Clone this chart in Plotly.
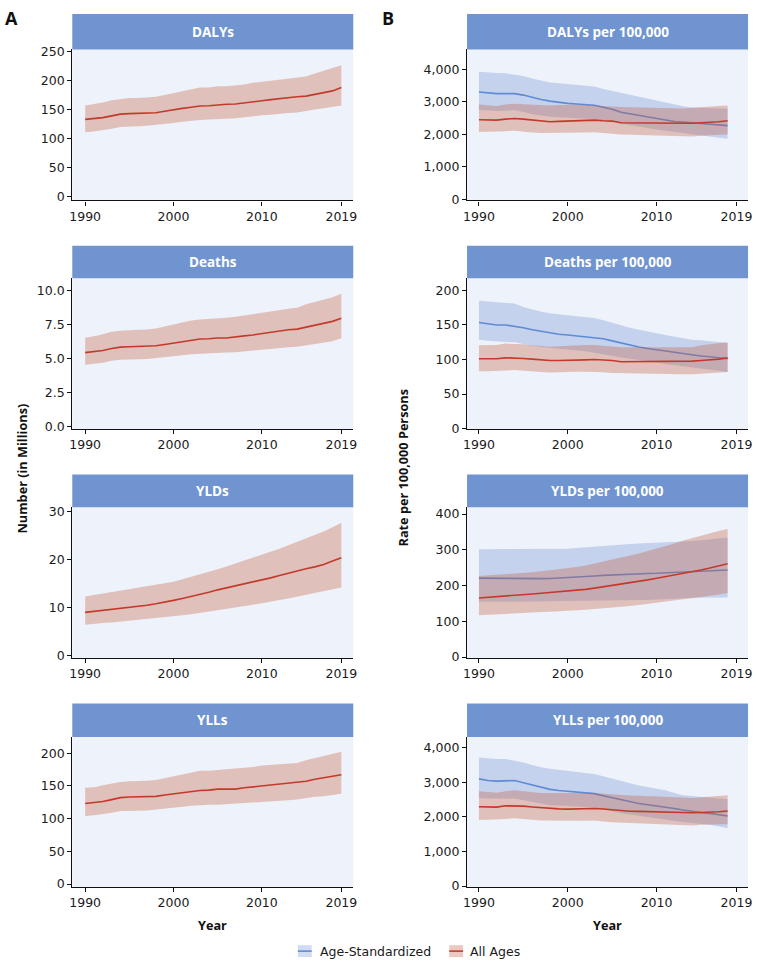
import plotly.graph_objects as go

# ---------------- DATA ----------------
years_a = list(range(1990, 2020))   # panel A (counts)
years_b = list(range(1990, 2019))   # panel B (rates)

# Panel A: All Ages counts (mid, upper, lower)
dalys_mid = [133,134,136,139,142,143,143.5,144,144.5,147,150,152,154,156,156.5,158,159,159.5,161,163,165,167,169,171,172,173,176,179,182,188]
dalys_up  = [157,159,162,166,168,170,170,171,172,175,178,181,184,188,188,190,190,191,193,196,198,200,202,204,206,207,212,217,221,226]
dalys_lo  = [111,112,114,117,120,121,121,122,123,125,127,129,131,132,133,134,134,135,137,138,140,141,142,144,145,147,150,152,154,157]

deaths_mid = [5.42,5.48,5.58,5.72,5.82,5.85,5.87,5.88,5.92,6.02,6.12,6.22,6.33,6.42,6.44,6.50,6.50,6.55,6.65,6.72,6.82,6.92,7.02,7.10,7.15,7.28,7.42,7.55,7.72,7.95]
deaths_up  = [6.52,6.62,6.78,6.95,7.02,7.08,7.10,7.12,7.20,7.35,7.48,7.62,7.78,7.85,7.88,7.92,7.98,8.05,8.15,8.25,8.38,8.48,8.58,8.65,8.72,8.98,9.15,9.32,9.50,9.76]
deaths_lo  = [4.52,4.60,4.68,4.82,4.90,4.92,4.93,4.95,4.98,5.08,5.15,5.22,5.30,5.36,5.38,5.40,5.42,5.45,5.52,5.58,5.64,5.70,5.75,5.82,5.86,5.98,6.08,6.15,6.25,6.48]

ylds_mid = [9.0,9.2,9.4,9.6,9.8,10.0,10.2,10.5,10.8,11.1,11.5,11.9,12.3,12.7,13.2,13.7,14.1,14.5,14.9,15.3,15.7,16.2,16.7,17.2,17.7,18.1,18.5,19.0,19.7,20.4]
ylds_up  = [12.3,12.6,12.9,13.2,13.5,13.8,14.1,14.4,14.7,15.0,15.4,15.9,16.4,16.9,17.4,18.0,18.6,19.2,19.8,20.4,21.0,21.6,22.3,23.0,23.7,24.4,25.1,25.9,26.8,27.7]
ylds_lo  = [6.4,6.6,6.8,6.9,7.1,7.2,7.4,7.6,7.8,8.0,8.2,8.4,8.6,8.9,9.1,9.4,9.7,10.0,10.3,10.6,10.9,11.2,11.6,11.9,12.3,12.6,13.0,13.4,13.8,14.2]

ylls_mid = [123,124,126,129,132,133,133,133.5,134,136,138,140,142,143,143.5,145,145,145,147,148.5,150,152,153,154.5,155.5,157,160,162,164,167]
ylls_up  = [147,148,151,154,156,157,157,158,159,162,165,168,170,173,173,174,175,176,178,179,181,182,183,184,185,189,192,195,198,202]
ylls_lo  = [104,105,106.5,109,111.5,112,112,112.5,113,115,116.5,118,119.5,120.5,121,121,121.5,122,123.5,124.5,125.5,126.5,127,128,129,131,133.5,134,136,138]

# Panel B: rates per 100,000 (Age-Standardized = as_, All Ages = aa_)
dalys_as_mid = [3305,3270,3255,3255,3255,3210,3140,3075,3025,2985,2955,2935,2920,2895,2835,2775,2680,2635,2590,2540,2490,2445,2395,2380,2360,2340,2315,2290,2270]
dalys_as_up  = [3930,3900,3890,3880,3850,3800,3720,3650,3600,3575,3550,3520,3500,3475,3400,3340,3275,3220,3175,3110,3045,2985,2925,2870,2825,2810,2800,2795,2790]
dalys_as_lo  = [2750,2735,2720,2730,2740,2690,2620,2580,2540,2525,2520,2500,2485,2470,2420,2370,2320,2280,2240,2195,2150,2110,2070,2025,1985,1960,1935,1900,1865]
dalys_aa_mid = [2450,2448,2440,2470,2490,2470,2440,2410,2390,2400,2415,2425,2435,2440,2420,2410,2360,2355,2350,2350,2350,2350,2348,2345,2345,2355,2365,2390,2420]
dalys_aa_up  = [2920,2900,2875,2920,2945,2930,2910,2895,2890,2905,2920,2915,2905,2895,2880,2860,2840,2835,2830,2825,2820,2815,2810,2800,2820,2845,2860,2875,2890]
dalys_aa_lo  = [2075,2080,2085,2100,2115,2090,2060,2045,2040,2045,2045,2055,2060,2065,2040,2020,1995,1985,1975,1970,1965,1955,1945,1940,1935,1960,1985,1990,1995]

deaths_as_mid = [153.5,151.5,150,150,148.5,146,143,140.5,138,136.5,135.5,134,133,132,130,127,124,120,118,116,114,112.5,111,109,106,105,104,102.5,101]
deaths_as_up  = [185,184,183,183,181,176,172,169,167,165,164,162.5,161,160,157,153,149,146,143,140,138,135.5,133,130.5,128.5,128,127,125.5,124]
deaths_as_lo  = [128.5,127,126,125.5,125,123,120,118,116.5,115,114,113,112,110.5,108,105.5,103,101,99,97,95.5,93.5,92,90,88,86.5,85,83.5,82]
deaths_aa_mid = [101,101,101,102.4,102.4,101.5,100.5,99.5,98.6,98.6,98.6,99,99.5,100,99.5,98.6,96.7,96.7,97,97,97,97.2,97.4,97.6,97.6,98.5,99,100.5,102.4]
deaths_aa_up  = [120.5,121,121,123,123,122,120.5,119,118.5,119,120,120.5,121,121,120,118.5,117.6,117.6,117.8,118,118,117.8,117.6,117.6,117.6,120.5,122,123.5,125]
deaths_aa_lo  = [83,83,83,84,84.8,84,83,82,81,81.5,82,82.2,82.4,82.4,81.5,80.5,79.5,79.3,79.2,79,79,78.8,78.7,78.6,78.6,79.5,80,81,82]

ylds_as_mid = [221,220.5,220,219.5,219,219,219,219.5,220,221,222.5,224,225.5,227,228.5,230,231,232,233,234,234.5,235.5,236.5,237.5,238.5,239.5,241,242.5,243.7]
ylds_as_up  = [301.5,301.5,301.5,301.5,301.5,301.5,302,302,302.5,302.5,303,305,307,309,312,314.5,315.5,316.5,317.5,318.5,319,320.5,322,323.5,325,326.5,329,332,334.5]
ylds_as_lo  = [154.5,154.5,154.5,154.5,154.5,154.5,154.5,155,155,155.5,156,156.5,157,157.5,158,158,158.5,159,159.5,160,161,162,163,164.5,166,167,167,167,167]
ylds_aa_mid = [165.5,167,169,171,173,174.7,176.5,178.5,180.5,182,184,186.5,189.5,193,196.5,200,204,208,212,216,220.7,225,229.5,234.5,239,243.7,249,255,261]
ylds_aa_up  = [227,228.5,230,231.5,233,234.5,237,240,243,245.5,248,252,256.5,262,266.5,271,277.5,284,290,296.5,303,310.5,318,326,333,340,346.5,352.5,358.5]
ylds_aa_lo  = [116.8,118.2,119.6,121,122.5,124,125,126,127,127.8,128.7,130.5,132.4,134.2,136,138,140.5,143.2,146,148.8,151.7,155,158.5,162,164.5,167,171,175,179]

ylls_as_mid = [3097,3050,3031,3040,3050,2983,2920,2860,2793,2760,2736,2715,2698,2670,2610,2556,2480,2430,2385,2350,2318,2280,2242,2195,2147,2120,2100,2060,2024]
ylls_as_up  = [3715,3690,3667,3667,3630,3572,3500,3430,3390,3354,3320,3287,3265,3240,3170,3097,3025,2955,2905,2860,2815,2765,2690,2622,2600,2575,2550,2530,2508]
ylls_as_lo  = [2546,2530,2518,2522,2527,2480,2432,2385,2337,2328,2318,2300,2280,2261,2210,2160,2100,2060,2024,1990,1957,1920,1881,1848,1815,1790,1767,1720,1672]
ylls_aa_mid = [2290,2285,2280,2318,2318,2309,2285,2261,2233,2228,2223,2230,2240,2242,2225,2204,2166,2162,2157,2148,2138,2132,2127,2122,2119,2124,2128,2145,2166]
ylls_aa_up  = [2736,2717,2698,2735,2765,2740,2715,2689,2690,2695,2698,2694,2690,2689,2665,2645,2622,2614,2606,2600,2594,2582,2570,2558,2546,2560,2575,2600,2622]
ylls_aa_lo  = [1910,1915,1919,1940,1957,1935,1912,1891,1886,1883,1881,1885,1888,1891,1865,1840,1815,1808,1800,1793,1786,1776,1767,1757,1748,1767,1786,1786,1786]

titles_a = ["DALYs", "Deaths", "YLDs", "YLLs"]
titles_b = ["DALYs per 100,000", "Deaths per 100,000", "YLDs per 100,000", "YLLs per 100,000"]
legend_names = ["Age-Standardized", "All Ages"]
x_tickvals = [1990, 2000, 2010, 2019]
ytick_a = [[0, 50, 100, 150, 200, 250], [0, 2.5, 5, 7.5, 10], [0, 10, 20, 30], [0, 50, 100, 150, 200]]
ytick_a_text = [["0", "50", "100", "150", "200", "250"], ["0.0", "2.5", "5.0", "7.5", "10.0"],
                ["0", "10", "20", "30"], ["0", "50", "100", "150", "200"]]
ytick_b = [[0, 1000, 2000, 3000, 4000], [0, 50, 100, 150, 200], [0, 100, 200, 300, 400], [0, 1000, 2000, 3000, 4000]]
ytick_b_text = [["0", "1,000", "2,000", "3,000", "4,000"], ["0", "50", "100", "150", "200"],
                ["0", "100", "200", "300", "400"], ["0", "1,000", "2,000", "3,000", "4,000"]]

series_a = [(dalys_mid, dalys_up, dalys_lo), (deaths_mid, deaths_up, deaths_lo),
            (ylds_mid, ylds_up, ylds_lo), (ylls_mid, ylls_up, ylls_lo)]
series_b = [
    ((dalys_as_mid, dalys_as_up, dalys_as_lo), (dalys_aa_mid, dalys_aa_up, dalys_aa_lo)),
    ((deaths_as_mid, deaths_as_up, deaths_as_lo), (deaths_aa_mid, deaths_aa_up, deaths_aa_lo)),
    ((ylds_as_mid, ylds_as_up, ylds_as_lo), (ylds_aa_mid, ylds_aa_up, ylds_aa_lo)),
    ((ylls_as_mid, ylls_as_up, ylls_as_lo), (ylls_aa_mid, ylls_aa_up, ylls_aa_lo)),
]

# ---------------- STYLE / LAYOUT ----------------
W, H = 757, 967
BLUE_LINE = "#5f8bd6"
BLUE_FILL = "rgba(90,130,210,0.28)"
RED_LINE = "#c43a2a"
RED_FILL = "rgba(196,92,60,0.33)"
HEADER = "#7094d0"
PLOT_BG = "#eef2fa"
TICK_FONT = dict(family="DejaVu Sans", size=12.5, color="#1a1a1a")

colA = (69, 353)
colB = (468, 752)
rows = [(44, 197), (276, 429), (508, 661), (741, 893)]
headers = [(8, 44), (243, 276), (475, 508), (707, 741)]
yrange_a = [[-6.3, 253.4], [-0.22, 10.89], [-0.56, 30.97], [-4.5, 224.6]]
yrange_b = [[-30, 4616], [-1, 217.6], [-2.8, 419.3], [-28.5, 4305]]
xrange_a = [1988.54, 2020.35]
xrange_b = [1988.66, 2020.3]


def px_x(p):
    return p / W


def px_y(p):
    return 1 - p / H


fig = go.Figure()
layout = dict()
shapes = []
annotations = []


def band(x, up, lo, color, xa, ya):
    return go.Scatter(x=list(x) + list(x)[::-1], y=list(up) + list(lo)[::-1],
                      fill="toself", fillcolor=color, line=dict(width=0),
                      mode="lines", hoverinfo="skip", showlegend=False, xaxis=xa, yaxis=ya)


def line(x, y, color, xa, ya):
    return go.Scatter(x=x, y=y, mode="lines", line=dict(color=color, width=1.6),
                      showlegend=False, xaxis=xa, yaxis=ya)


idx = 0
for r in range(4):
    for c in range(2):
        idx += 1
        xa = "x" if idx == 1 else f"x{idx}"
        ya = "y" if idx == 1 else f"y{idx}"
        xkey = "xaxis" if idx == 1 else f"xaxis{idx}"
        ykey = "yaxis" if idx == 1 else f"yaxis{idx}"
        col = colA if c == 0 else colB
        top, bot = rows[r]
        layout[xkey] = dict(domain=[px_x(col[0]), px_x(col[1])], anchor=ya,
                            range=xrange_a if c == 0 else xrange_b,
                            tickvals=x_tickvals, ticktext=[str(v) for v in x_tickvals],
                            showgrid=False, zeroline=False, showline=True, linecolor="#111",
                            linewidth=1.3, ticks="outside", ticklen=4, tickcolor="#111",
                            tickwidth=1, tickfont=TICK_FONT, ticklabeloverflow="allow")
        layout[ykey] = dict(domain=[px_y(bot), px_y(top)], anchor=xa,
                            range=yrange_a[r] if c == 0 else yrange_b[r],
                            tickvals=ytick_a[r] if c == 0 else ytick_b[r],
                            ticktext=ytick_a_text[r] if c == 0 else ytick_b_text[r],
                            showgrid=False, zeroline=False, showline=True, linecolor="#111",
                            linewidth=1.3, ticks="outside", ticklen=4, tickcolor="#111",
                            tickwidth=1, tickfont=TICK_FONT)
        # header strip
        htop, hbot = headers[r]
        shapes.append(dict(type="rect", xref="paper", yref="paper",
                           x0=px_x(col[0]), x1=px_x(col[1]), y0=px_y(hbot), y1=px_y(htop),
                           fillcolor=HEADER, line=dict(width=0), layer="above"))
        annotations.append(dict(xref="paper", yref="paper", x=px_x((col[0] + col[1]) / 2),
                                y=px_y((htop + hbot) / 2), xanchor="center", yanchor="middle",
                                text="<b>" + (titles_a[r] if c == 0 else titles_b[r]) + "</b>",
                                showarrow=False,
                                font=dict(family="Open Sans", size=13.5, color="white")))
        if c == 0:
            mid, up, lo = series_a[r]
            fig.add_trace(band(years_a, up, lo, RED_FILL, xa, ya))
            fig.add_trace(line(years_a, mid, RED_LINE, xa, ya))
        else:
            (amid, aup, alo), (rmid, rup, rlo) = series_b[r]
            fig.add_trace(band(years_b, aup, alo, BLUE_FILL, xa, ya))
            fig.add_trace(line(years_b, amid, BLUE_LINE, xa, ya))
            fig.add_trace(band(years_b, rup, rlo, RED_FILL, xa, ya))
            fig.add_trace(line(years_b, rmid, RED_LINE, xa, ya))

# custom legend (small swatch + line + label)
LEG_Y = 958
for (sx, tx, name, fcol, lcol) in [(297, 317, legend_names[0], BLUE_FILL, BLUE_LINE),
                                   (450, 469, legend_names[1], RED_FILL, RED_LINE)]:
    shapes.append(dict(type="rect", xref="paper", yref="paper",
                       x0=px_x(sx), x1=px_x(sx + 14), y0=px_y(LEG_Y + 6), y1=px_y(LEG_Y - 6),
                       fillcolor=fcol, line=dict(width=0)))
    shapes.append(dict(type="line", xref="paper", yref="paper",
                       x0=px_x(sx), x1=px_x(sx + 14), y0=px_y(LEG_Y), y1=px_y(LEG_Y),
                       line=dict(color=lcol, width=1.6)))
    annotations.append(dict(xref="paper", yref="paper", x=px_x(tx), y=px_y(LEG_Y),
                            xanchor="left", yanchor="middle", text=name, showarrow=False,
                            font=dict(family="DejaVu Sans", size=12.5, color="#1a1a1a")))

# panel letters & axis titles
TITLE_FONT = dict(family="Open Sans", size=12.7, color="#111")
annotations += [
    dict(xref="paper", yref="paper", x=px_x(8), y=px_y(12), text="<b>A</b>", showarrow=False,
         xanchor="center", yanchor="middle", font=dict(family="Open Sans", size=18, color="#111")),
    dict(xref="paper", yref="paper", x=px_x(388), y=px_y(12), text="<b>B</b>", showarrow=False,
         xanchor="center", yanchor="middle", font=dict(family="Open Sans", size=18, color="#111")),
    dict(xref="paper", yref="paper", x=px_x(18), y=px_y(469), text="<b>Number (in Millions)</b>",
         textangle=-90, showarrow=False, xanchor="center", yanchor="middle", font=TITLE_FONT),
    dict(xref="paper", yref="paper", x=px_x(403), y=px_y(468), text="<b>Rate per 100,000 Persons</b>",
         textangle=-90, showarrow=False, xanchor="center", yanchor="middle", font=TITLE_FONT),
    dict(xref="paper", yref="paper", x=px_x(211), y=px_y(932), text="<b>Year</b>", showarrow=False,
         xanchor="center", yanchor="middle", font=TITLE_FONT),
    dict(xref="paper", yref="paper", x=px_x(610), y=px_y(932), text="<b>Year</b>", showarrow=False,
         xanchor="center", yanchor="middle", font=TITLE_FONT),
]

fig.update_layout(**layout)
fig.update_layout(
    width=W, height=H, margin=dict(l=0, r=0, t=0, b=0),
    paper_bgcolor="white", plot_bgcolor=PLOT_BG,
    shapes=shapes, annotations=annotations,
    showlegend=False,
)

fig.write_html("out.html", config={"displayModeBar": False},
               post_script="document.body.style.margin='0';")
